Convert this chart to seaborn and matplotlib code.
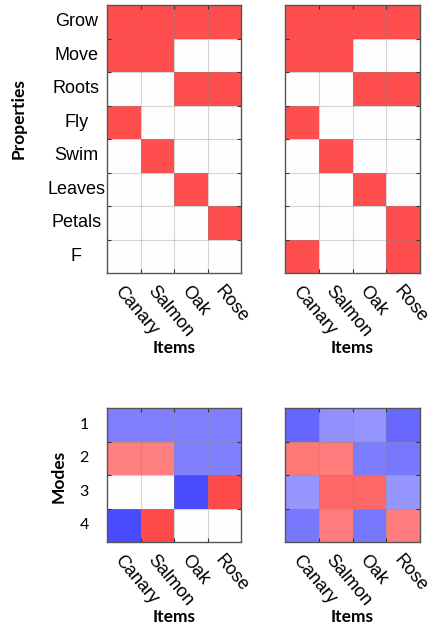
import numpy as np
import pandas as pd
import matplotlib
matplotlib.use("Agg")
import matplotlib.pyplot as plt
import seaborn as sns

plt.rcParams["font.family"] = ["Liberation Sans", "DejaVu Sans"]

items = ["Canary", "Salmon", "Oak", "Rose"]
properties = ["Grow", "Move", "Roots", "Fly", "Swim", "Leaves", "Petals", "F"]
modes = ["1", "2", "3", "4"]

props_a = [
    [1, 1, 1, 1],
    [1, 1, 0, 0],
    [0, 0, 1, 1],
    [1, 0, 0, 0],
    [0, 1, 0, 0],
    [0, 0, 1, 0],
    [0, 0, 0, 1],
    [0, 0, 0, 0],
]
props_b = [
    [1, 1, 1, 1],
    [1, 1, 0, 0],
    [0, 0, 1, 1],
    [1, 0, 0, 0],
    [0, 1, 0, 0],
    [0, 0, 1, 0],
    [0, 0, 0, 1],
    [1, 0, 0, 1],
]
modes_a = [
    [-0.5, -0.5, -0.5, -0.5],
    [0.5, 0.5, -0.5, -0.5],
    [0.0, 0.0, -0.71, 0.71],
    [-0.71, 0.71, 0.0, 0.0],
]
modes_b = [
    [-0.60, -0.43, -0.42, -0.59],
    [0.53, 0.51, -0.51, -0.53],
    [-0.41, 0.59, 0.59, -0.41],
    [-0.53, 0.51, -0.53, 0.51],
]

W, H = 432, 626
fig = plt.figure(figsize=(W / 100, H / 100), dpi=100)

def ax_at(x0, y0, x1, y1):
    return fig.add_axes([x0 / W, 1 - y1 / H, (x1 - x0) / W, (y1 - y0) / H])

LABEL_FONT = ["Liberation Sans", "DejaVu Sans"]
BOLD_FONT = ["Lato", "DejaVu Sans"]

def draw(ax, data, rows, vmax, ylabels, show_y):
    df = pd.DataFrame(data, index=rows, columns=items)
    sns.heatmap(df, ax=ax, cmap="bwr", vmin=-vmax, vmax=vmax, cbar=False,
                square=False, linewidths=0)
    nr, nc = df.shape
    ax.set_xticks(np.arange(1, nc), minor=True)
    ax.set_yticks(np.arange(1, nr), minor=True)
    ax.grid(which="minor", color="#888888", alpha=0.35, linewidth=0.8)
    ax.grid(which="major", visible=False)
    ax.tick_params(which="minor", direction="in", length=3, width=0.8,
                   color="#333333", top=True, right=True, bottom=True, left=True)
    ax.tick_params(which="major", length=0)
    for s in ax.spines.values():
        s.set_visible(True)
        s.set_color("#555555")
        s.set_linewidth(1.0)
    ax.set_xticklabels(items, rotation=-50, ha="left", va="top",
                       rotation_mode="anchor", fontsize=13, family=LABEL_FONT)
    ax.tick_params(axis="x", which="major", pad=7)
    if show_y:
        if ylabels == "props":
            ax.set_yticklabels(rows, rotation=0, fontsize=13, family=LABEL_FONT,
                               ha="center")
            ax.tick_params(axis="y", which="major", pad=22)
        else:
            ax.set_yticklabels(rows, rotation=0, fontsize=11.5, family=BOLD_FONT)
            ax.tick_params(axis="y", which="major", pad=13)
    else:
        ax.set_yticklabels([])
    ax.set_xlabel("Items", fontsize=12.5, fontweight="bold", family=BOLD_FONT,
                  labelpad=0)
    ax.set_ylabel("")

ax1 = ax_at(107, 5, 241, 273)
ax2 = ax_at(285, 5, 420, 273)
ax3 = ax_at(107, 408, 241, 542)
ax4 = ax_at(285, 408, 420, 542)

draw(ax1, props_a, properties, 1.45, "props", True)
draw(ax2, props_b, properties, 1.45, "props", False)
draw(ax3, modes_a, modes, 1.0, "modes", True)
draw(ax4, modes_b, modes, 1.0, "modes", False)

fig.text(19 / W, 1 - 119 / H, "Properties", rotation=90, ha="center", va="center",
         fontsize=12.5, fontweight="bold", family=BOLD_FONT)
fig.text(59 / W, 1 - 476 / H, "Modes", rotation=90, ha="center", va="center",
         fontsize=12.5, fontweight="bold", family=BOLD_FONT)

fig.savefig("out.png", dpi=100)
